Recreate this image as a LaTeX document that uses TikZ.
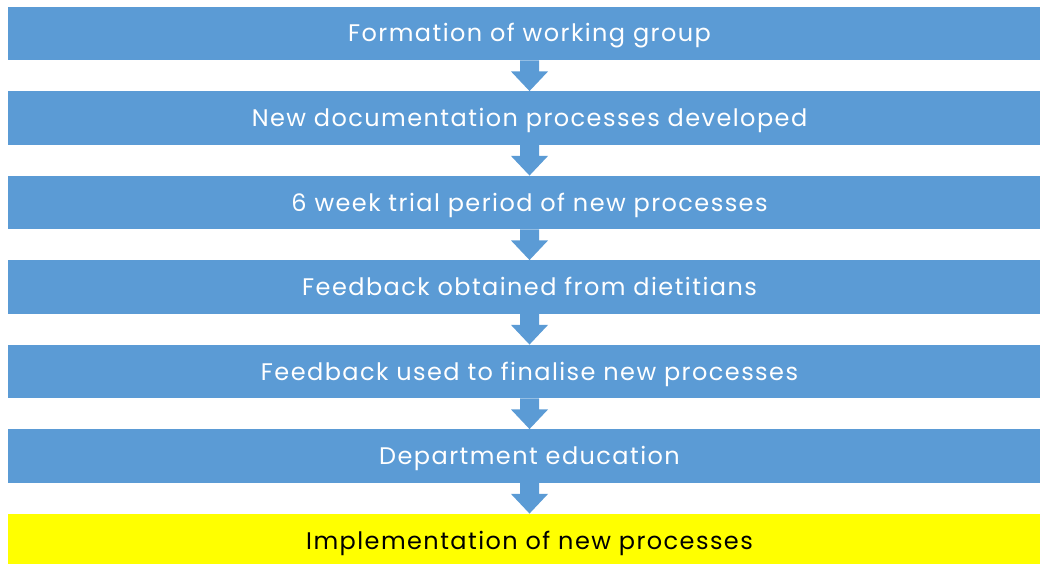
\documentclass[tikz,border=0pt]{standalone}
\usepackage{fontspec}
\setmainfont{Poppins}
\newfontfamily\boxfont[LetterSpace=6]{Poppins}
\usetikzlibrary{calc}
\definecolor{boxblue}{HTML}{5B9BD5}
\definecolor{boxyellow}{HTML}{FFFF00}
\tikzset{
  stepbox/.style={rectangle, fill=boxblue, draw=none, minimum width=1043pt, minimum height=53.5pt, inner sep=0pt, text height=17pt, text depth=0pt, text=white, font=\boxfont\fontsize{24}{28}\selectfont},
  finalbox/.style={stepbox, fill=boxyellow, text=black},
  downarrow/.style={fill=boxblue, draw=none}
}
\newcommand{\flowarrow}[2]{%
  \fill[downarrow] ($(#1.south)+(-9.5,0)$) -- ($(#1.south)+(-9.5,11)$) -- ($(#1.south)+(-18.5,11)$) -- (#2.north) -- ($(#1.south)+(18.5,11)$) -- ($(#1.south)+(9.5,11)$) -- ($(#1.south)+(9.5,0)$) -- cycle;}
\begin{document}
\begin{tikzpicture}[x=1pt,y=-1pt]
\useasboundingbox (0,0) rectangle (1040,564);
\node[stepbox] (b1) at (529.5,33.5) {Formation of working group};
\node[stepbox] (b2) at (529.5,118) {New documentation processes developed};
\node[stepbox] (b3) at (529.5,202.5) {6 week trial period of new processes};
\node[stepbox] (b4) at (529.5,287) {Feedback obtained from dietitians};
\node[stepbox] (b5) at (529.5,371.5) {Feedback used to finalise new processes};
\node[stepbox] (b6) at (529.5,456) {Department education};
\node[finalbox] (b7) at (529.5,540.5) {Implementation of new processes};
\flowarrow{b1}{b2}
\flowarrow{b2}{b3}
\flowarrow{b3}{b4}
\flowarrow{b4}{b5}
\flowarrow{b5}{b6}
\flowarrow{b6}{b7}
\end{tikzpicture}
\end{document}
